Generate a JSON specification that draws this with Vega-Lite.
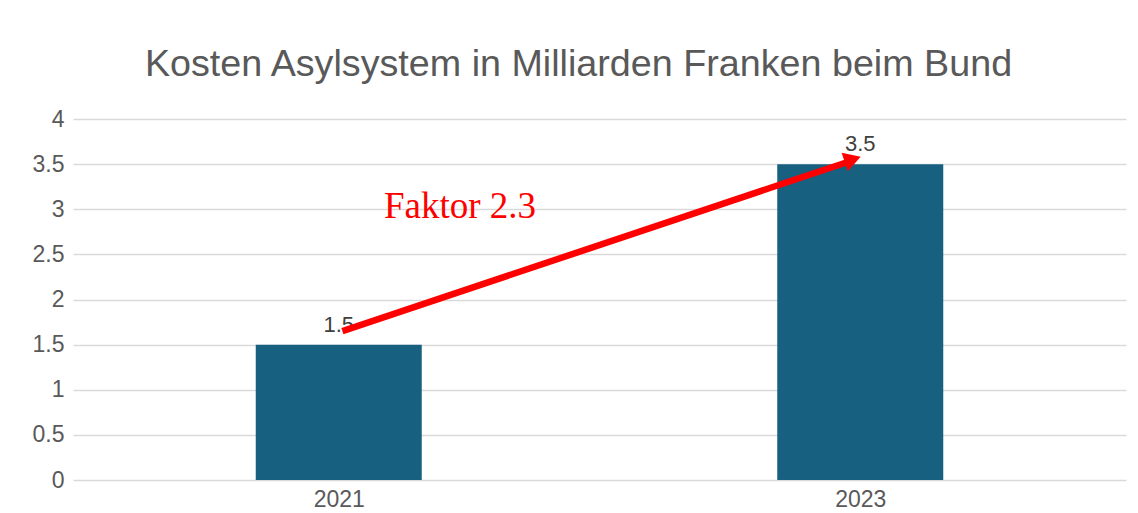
{
  "$schema": "https://vega.github.io/schema/vega-lite/v6.json",
  "width": 1053,
  "height": 361,
  "autosize": {"type": "none"},
  "padding": {"left": 73, "top": 119, "right": 12, "bottom": 33},
  "background": "white",
  "config": {
    "view": {"stroke": null},
    "font": "Liberation Sans"
  },
  "title": {
    "text": "Kosten Asylsystem in Milliarden Franken beim Bund",
    "font": "Liberation Sans",
    "fontSize": 37.7,
    "fontWeight": "normal",
    "color": "#595959",
    "anchor": "middle",
    "baseline": "alphabetic",
    "offset": 40,
    "dx": -21,
    "dy": 46
  },
  "datasets": {
    "bars": [
      {"year": 2021, "value": 1.5},
      {"year": 2023, "value": 3.5}
    ],
    "arrow": [
      {"ax": 2021.014, "ay": 1.65},
      {"ax": 2022.946, "ay": 3.518}
    ],
    "head": [
      {"hx": 2022.971, "hy": 3.553}
    ],
    "note": [
      {"nx": 2021.465, "ny": 2.9, "label": "Faktor 2.3"}
    ]
  },
  "layer": [
    {
      "data": {"name": "bars"},
      "mark": {"type": "bar", "color": "#17607F", "width": 166},
      "encoding": {
        "x": {
          "field": "year",
          "type": "quantitative",
          "scale": {"domain": [2020, 2024], "nice": false, "zero": false},
          "axis": {
            "values": [2021, 2023],
            "format": "d",
            "title": null,
            "grid": false,
            "domain": false,
            "ticks": false,
            "labelFontSize": 23,
            "labelColor": "#595959",
            "labelPadding": 8,
            "labelFont": "Liberation Sans"
          }
        },
        "y": {
          "field": "value",
          "type": "quantitative",
          "scale": {"domain": [0, 4], "nice": false},
          "axis": {
            "values": [0, 0.5, 1, 1.5, 2, 2.5, 3, 3.5, 4],
            "format": "~g",
            "title": null,
            "domain": false,
            "ticks": false,
            "gridColor": "#d9d9d9",
            "gridWidth": 1.5,
            "labelFontSize": 23,
            "labelColor": "#595959",
            "labelPadding": 9,
            "labelFont": "Liberation Sans"
          }
        }
      }
    },
    {
      "data": {"name": "bars"},
      "mark": {"type": "text", "fontSize": 22, "color": "#404040", "baseline": "alphabetic", "dy": -13, "font": "Liberation Sans"},
      "encoding": {
        "x": {"field": "year", "type": "quantitative"},
        "y": {"field": "value", "type": "quantitative"},
        "text": {"field": "value", "type": "quantitative", "format": ".1f"}
      }
    },
    {
      "data": {"name": "arrow"},
      "mark": {"type": "line", "color": "#FF0000", "strokeWidth": 6.5, "strokeCap": "butt"},
      "encoding": {
        "x": {"field": "ax", "type": "quantitative"},
        "y": {"field": "ay", "type": "quantitative"}
      }
    },
    {
      "data": {"name": "head"},
      "mark": {"type": "point", "shape": "triangle-up", "filled": true, "color": "#FF0000", "opacity": 1, "size": 380, "angle": 71.6},
      "encoding": {
        "x": {"field": "hx", "type": "quantitative"},
        "y": {"field": "hy", "type": "quantitative"}
      }
    },
    {
      "data": {"name": "note"},
      "mark": {"type": "text", "font": "Liberation Serif", "fontSize": 37, "color": "#FF0000", "baseline": "alphabetic", "align": "center"},
      "encoding": {
        "x": {"field": "nx", "type": "quantitative"},
        "y": {"field": "ny", "type": "quantitative"},
        "text": {"field": "label"}
      }
    }
  ]
}
